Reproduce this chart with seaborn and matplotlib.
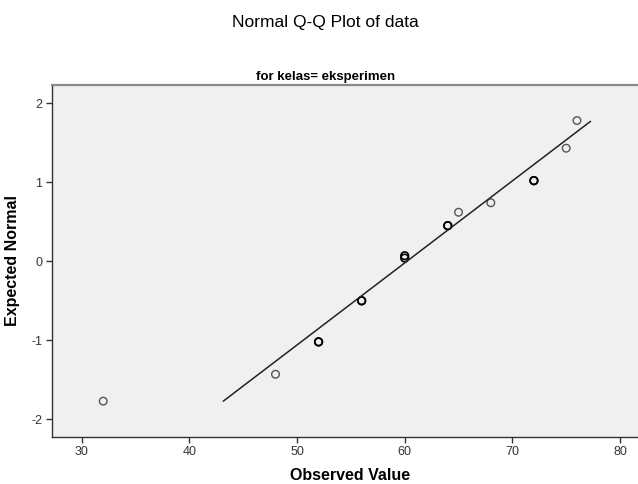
import matplotlib
matplotlib.use("Agg")
import matplotlib.pyplot as plt
import seaborn as sns
import pandas as pd

# Valores (Q-Q normal, grupo eksperimen)
observed = [32, 48, 52, 52, 56, 56, 60, 60, 64, 64, 65, 68, 72, 72, 75, 76]
expected = [-1.77, -1.43, -1.02, -1.02, -0.50, -0.50, 0.04, 0.07, 0.45, 0.45,
            0.62, 0.74, 1.02, 1.02, 1.43, 1.78]

# Extremos de la recta de referencia
line_observed = [43.15, 77.26]
line_expected = [-1.77, 1.77]

x_ticks = [30, 40, 50, 60, 70, 80]
y_ticks = [-2, -1, 0, 1, 2]

df = pd.DataFrame({"observed": observed, "expected": expected})
# puntos repetidos se ven más oscuros
df["n"] = df.groupby(["observed"])["observed"].transform("count")
single = df[df["n"] == 1]
repeated = df[df["n"] > 1]
line_df = pd.DataFrame({"observed": line_observed, "expected": line_expected})

sns.set_theme(style="white")
plt.rcParams["font.family"] = ["Liberation Sans", "DejaVu Sans"]
plt.rcParams["axes.unicode_minus"] = False

fig = plt.figure(figsize=(6.38, 4.84), dpi=100)
ax = fig.add_axes([0.0815, 0.0977, 0.9185, 0.7267])
ax.set_facecolor("#F0F0F0")

sns.lineplot(data=line_df, x="observed", y="expected", color="#222222",
             linewidth=1.1, ax=ax)
sns.scatterplot(data=single, x="observed", y="expected", s=30, marker="o",
                facecolors="none", edgecolor="#555555", linewidth=1.0, ax=ax)
sns.scatterplot(data=repeated, x="observed", y="expected", s=30, marker="o",
                facecolors="none", edgecolor="#000000", linewidth=1.2, ax=ax)

ax.set_xlim(27.24, 81.67)
ax.set_ylim(-2.22, 2.23)
ax.set_xticks(x_ticks)
ax.set_yticks(y_ticks)
ax.tick_params(axis="both", which="major", direction="out", length=4.5, width=1,
               color="#333333", labelsize=9, labelcolor="#333333", pad=2.5,
               bottom=True, left=True)

for side in ["left", "bottom"]:
    ax.spines[side].set_color("#333333")
    ax.spines[side].set_linewidth(1.0)
ax.spines["top"].set_color("#8A8A8A")
ax.spines["top"].set_linewidth(1.6)
ax.spines["right"].set_visible(False)

ax.set_xlabel("Observed Value", fontsize=11.5, fontweight="bold", color="black")
ax.xaxis.set_label_coords(0.509, -0.09)
ax.set_ylabel("Expected Normal", fontsize=11.5, fontweight="bold", color="black")
ax.yaxis.set_label_coords(-0.054, 0.5)

ax.set_title("for kelas= eksperimen", fontsize=9.5, fontweight="bold",
             color="black", x=0.466, pad=3.5)
fig.suptitle("Normal Q-Q Plot of data", fontsize=12.5, color="black",
             x=325 / 638, y=0.968)

plt.savefig("out.png", dpi=100)
